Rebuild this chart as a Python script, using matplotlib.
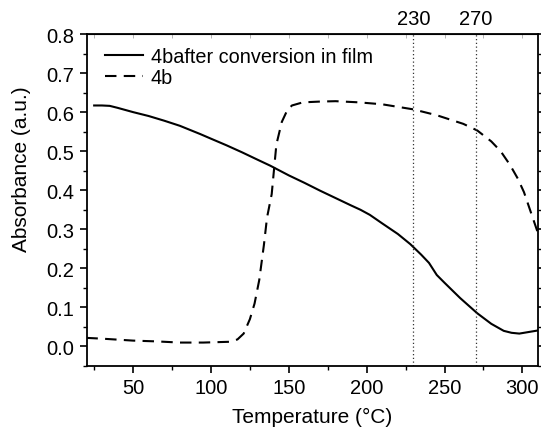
import matplotlib
matplotlib.use("Agg")
import matplotlib.pyplot as plt
from matplotlib.ticker import MultipleLocator

plt.rcParams['font.family'] = ['Liberation Sans', 'DejaVu Sans']

# Solid: 4b after conversion in film
t_film = [25, 30, 35, 40, 50, 60, 70, 80, 93, 100, 110, 120, 130, 138, 150, 160, 170, 180, 190, 196, 202,
          210, 220, 228, 235, 240, 245, 250, 260, 271, 280, 288, 293, 298, 304, 310]
a_film = [0.617, 0.617, 0.616, 0.611, 0.600, 0.590, 0.578, 0.565, 0.544, 0.532, 0.515, 0.497, 0.478, 0.463,
          0.438, 0.419, 0.399, 0.380, 0.361, 0.350, 0.337, 0.315, 0.288, 0.262, 0.235, 0.214, 0.183,
          0.163, 0.124, 0.085, 0.058, 0.040, 0.035, 0.033, 0.037, 0.041]

# Dashed: 4b
t_4b = [20, 30, 50, 65, 80, 95, 112, 117, 121, 125, 128, 131, 134, 136, 139, 142, 145.5, 149, 152, 159,
        170, 180, 195, 210, 230, 245, 262, 271, 280, 286, 292, 297, 301, 304, 307, 310]
a_4b = [0.022, 0.020, 0.015, 0.013, 0.010, 0.010, 0.012, 0.018, 0.033, 0.070, 0.110, 0.170, 0.260, 0.330,
        0.390, 0.517, 0.575, 0.605, 0.617, 0.625, 0.627, 0.628, 0.625, 0.620, 0.607, 0.592, 0.570, 0.553,
        0.525, 0.500, 0.465, 0.430, 0.395, 0.360, 0.325, 0.290]

vlines = [230, 270]
vline_labels = ["230", "270"]

FS = 14.5
LFS = 15

fig = plt.figure(figsize=(5.41, 4.31), dpi=100)
ax = fig.add_axes([87/541, 1 - 367/431, (538-87)/541, (367-35)/431])

ax.plot(t_film, a_film, color='black', lw=1.5, ls='-', label='4bafter conversion in film')
ax.plot(t_4b, a_4b, color='black', lw=1.5, ls=(0, (5.5, 3.5)), label='4b')
for v in vlines:
    ax.axvline(v, color='#333333', lw=0.9, ls=(0, (1, 2)))

ax.set_xlim(20.4, 310)
ax.set_ylim(-0.05, 0.8)
ax.xaxis.set_major_locator(MultipleLocator(50))
ax.xaxis.set_minor_locator(MultipleLocator(25))
ax.yaxis.set_minor_locator(MultipleLocator(0.05))
ax.set_yticks([0.0, 0.1, 0.2, 0.3, 0.4, 0.5, 0.6, 0.7, 0.8])
ax.set_yticklabels([f"{v:.1f}" for v in [0.0, 0.1, 0.2, 0.3, 0.4, 0.5, 0.6, 0.7, 0.8]])

ax.tick_params(axis='both', which='major', direction='out', length=5, width=1.2, labelsize=FS,
               left=True, bottom=True, right=True, top=False, pad=4)
ax.tick_params(axis='both', which='minor', direction='out', length=3, width=1.0,
               left=True, bottom=True, right=True, top=False)
for s in ax.spines.values():
    s.set_linewidth(1.3)

ax.set_xlabel('Temperature (°C)', fontsize=LFS, labelpad=7)
ax.set_ylabel('Absorbance (a.u.)', fontsize=LFS)
ax.yaxis.set_label_coords(-0.124, 0.596)

ax2 = ax.secondary_xaxis('top')
ax2.set_xticks(vlines)
ax2.set_xticklabels(vline_labels)
ax2.xaxis.set_minor_locator(MultipleLocator(25))
ax2.tick_params(axis='x', which='major', length=0, labelsize=FS, pad=4)
ax2.tick_params(axis='x', which='minor', direction='in', length=3, color='#aaaaaa')

ax.legend(loc='upper left', frameon=False, fontsize=14.3, handlelength=1.91,
          handletextpad=0.4, labelspacing=0.12, borderaxespad=0.0, bbox_to_anchor=(0.022, 0.985))

fig.savefig('out.png', dpi=100)
